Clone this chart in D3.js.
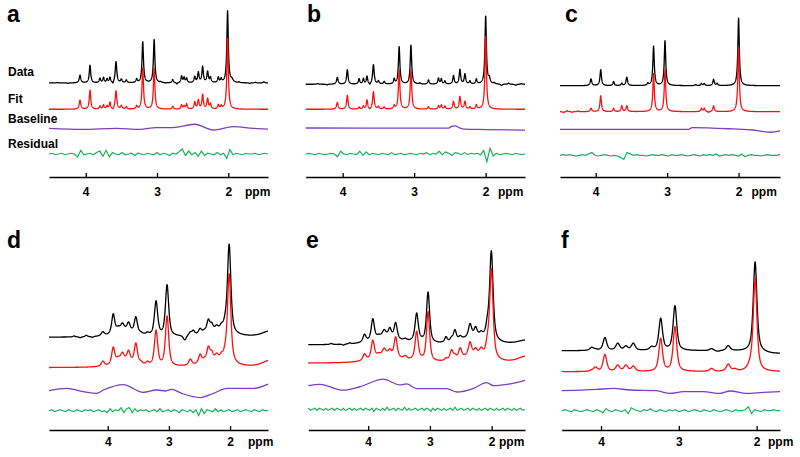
<!DOCTYPE html>
<html><head><meta charset="utf-8">
<script src="https://cdn.jsdelivr.net/npm/d3@7"></script>
<style>body{margin:0;background:#fff} svg{display:block}</style>
</head><body><svg id="chart" width="800" height="457"></svg>
<script>
// ---------------- DATA ----------------
// peaks: [ppm, data amplitude, fit amplitude, half-width (ppm)]  (a.u., NAA data peak ~ 100)
const peaksA = [
  [4.40,0.7,0,.01],[4.25,-0.7,0,.01],
  [4.08,10.5,12.3,.013],[3.94,24,26,.012],[3.80,6,4,.012],[3.75,7,5.5,.011],[3.70,5,4,.011],
  [3.66,7,9,.011],[3.62,-3,-2,.010],[3.575,29,25,.013],[3.50,4.5,4.5,.012],[3.43,3.7,3,.012],
  [3.285,5,4,.011],[3.20,56,56,.012],[3.04,59,56,.012],[2.95,1,0,.01],[2.88,-0.7,0,.01],
  [2.78,4.5,4,.011],[2.72,-2,0,.010],[2.655,9,5.5,.011],[2.62,7,4,.011],[2.585,6,7,.011],
  [2.47,8,9.5,.012],[2.42,14,12,.012],[2.36,22,19.5,.012],[2.29,15,14,.012],[2.25,7,7,.011],
  [2.14,7,5.5,.011],[2.10,5,4,.011],[2.01,98,97,.012],[1.95,3.7,0,.02],
  [1.85,1,0,.01],[1.70,-1,0,.01],[1.62,1,0,.01],[1.50,1.5,0,.012]
];
const peaksB = [
  [4.35,1,0,.012],[4.22,-1,0,.012],
  [4.075,9.7,9.7,.013],[3.935,21,20,.012],[3.77,7.6,3,.011],[3.71,7.6,4.3,.011],
  [3.66,11,13,.011],[3.62,-2.5,-2,.010],[3.57,28,25,.013],[3.50,4.3,3.6,.012],
  [3.42,3.6,3,.012],[3.28,7,4.8,.011],[3.21,54,57,.012],[3.045,56,57,.012],
  [2.92,1.5,0,.01],[2.80,6,3.6,.011],[2.66,8.5,4.8,.011],[2.62,7.4,5.8,.011],[2.57,4.3,4.3,.011],
  [2.45,12,11,.012],[2.36,21,18,.012],[2.29,14.5,11,.012],[2.22,4.3,3,.011],[2.13,7,6,.011],
  [2.00,98,105,.012],[1.95,7,0,.015],
  [1.88,1.5,0,.012],[1.78,-2,0,.015],[1.68,1.5,0,.012],[1.58,-1.5,0,.015],[1.50,1,0,.01]
];
const peaksC = [
  [4.45,0,-1.5,.01],[4.40,0,1.5,.01],[4.33,0,-1,.01],[4.25,0,1,.01],
  [4.066,9.7,4.8,.013],[3.93,23,23,.012],[3.75,5.8,4.8,.011],[3.635,3.3,8.3,.011],
  [3.565,12,8.3,.013],[3.27,2.9,0,.011],[3.19,57,55,.012],[3.03,65,61,.012],
  [2.60,1.5,0,.01],[2.52,2.9,4.8,.011],[2.48,2.9,4.8,.011],[2.42,0,-1.5,.010],
  [2.35,9,8.3,.012],[2.30,2.9,0,.011],[2.00,98,94,.012]
];
const peaksD = [
  [4.55,1,0,.02],[4.45,-1,0,.02],[4.35,1.5,0,.02],[4.25,-1,0,.02],
  [4.08,4,5,.03],[3.91,20,17,.03],[3.83,4,4,.035],[3.76,7,8,.035],[3.66,8,10,.03],
  [3.54,16,20,.03],[3.46,1,2,.035],[3.35,2,3,.03],[3.21,35,36,.032],[3.03,52,51,.032],
  [2.74,-5,0,.03],[2.65,3,6,.03],[2.60,4,0,.025],[2.49,5,9,.03],[2.42,2,3,.03],
  [2.355,12,14,.03],[2.30,7,8,.03],[2.22,5,6,.035],[2.14,5,5,.035],[2.08,6,6,.03],
  [2.015,91,91,.033],
  [3.70,6,6,.20],[2.25,4,5,.30],[1.35,6,7,.15]
];
const peaksE = [
  [4.60,1,0,.02],[4.40,-1,0,.02],[4.30,1,0,.02],
  [4.06,7,6,.03],[3.925,20,17,.03],[3.83,2,2,.035],[3.74,6,6,.035],[3.65,8,5,.03],
  [3.555,15,19,.03],[3.40,2,3,.035],[3.215,25,26,.03],[3.03,48,47,.03],
  [2.74,5,2,.025],[2.65,3,9,.03],[2.595,10,3,.028],[2.51,3,9,.03],[2.35,12,12,.03],
  [2.26,8,5,.03],[2.17,4,6,.035],[2.07,10,10,.03],[2.005,85,85,.033],
  [3.72,7,7,.25],[3.20,3,2,.10],[2.30,7,7,.25],[1.45,4,6,.15]
];
const peaksF = [
  [4.12,3,1,.028],[4.07,1,4,.028],[3.95,13,17,.028],[3.785,7,6,.03],[3.68,4,6,.03],
  [3.585,7,5,.03],[3.35,3,0,.03],[3.233,32,33,.028],[3.05,45,45,.028],[2.58,2,3,.03],
  [2.50,-1,0,.03],[2.365,5,7,.03],[2.28,0,2,.03],[2.08,0,4,.04],[2.02,91,93,.028],
  [1.75,-3,0,.25]
];

// baseline control points: [ppm, value]
const baseA = [[4.515,0],[4.04,-1.4],[3.57,0],[3.24,-1.4],[3.01,1],[2.78,1],[2.47,5.5],[2.21,-2.3],[1.93,2.3],[1.65,0],[1.443,-1]];
const baseB = [[4.517,0],[3.0,-0.3],[2.52,-0.3],[2.48,2.2],[2.43,3.2],[2.36,0],[2.30,-1.5],[2.0,-2.2],[1.45,-3.2]];
const baseC = [[4.5,0],[2.70,0],[2.65,2.4],[2.08,0.5],[1.8,-1],[1.55,-4.3],[1.42,-2.4]];
const baseD = [[4.96,0],[4.67,2.3],[4.40,-1],[4.18,-2.7],[4.07,0.7],[3.745,6.3],[3.42,-1.7],[3.20,0.7],[3.05,-0.3],[2.955,1.3],[2.79,-2.7],[2.49,-7],[2.27,-2.7],[2.05,2.3],[1.84,2.3],[1.62,2.3],[1.38,6.7]];
const baseE = [[4.97,0],[4.78,1.3],[4.405,-4.3],[4.135,-1],[3.757,6.3],[3.486,0.7],[3.378,1.7],[3.216,-2.7],[2.946,-2.7],[2.73,-2.7],[2.567,-6],[2.30,-2.7],[2.08,3],[1.974,0],[1.70,1.7],[1.46,5]];
const baseF = [[4.505,0],[4.055,1.3],[3.84,2.3],[3.63,0.7],[3.285,0],[3.114,-2.7],[2.94,-1],[2.686,-1],[2.47,-2.7],[2.343,-0.3],[2.13,-2.7],[1.915,-1.7],[1.70,-1]];

// residuals: values at evenly spaced ppm across each panel
const resA = [0,1,-1,0,1,-1,0,1,0, -4,5, -1,0,1,-1,2, 4,-3,5,-4,2, 0,-1,2,-1,0,1,-2,1,0,-1,
  1,0,-1,2,-1,1,0,-2,1,0, 3,7,-2,4, -1,2,-3,4,-2,1, 0,-1,2,-1,1, -6,6, -1,1,0,-1,1,0,0,1,-1,0,1,0];
const resB = [0,1,0,-1,1,0,-1,0,1,0, -4,4, 0,-1,1,0,-1, 4,-2,3, -1,1,0,-1,1,0,-1,2,-1,0,
  1,-1,0,1,0,-1,1,0,2,-1,1,0, 4,-1,3, 1,-2,2,1,-1, 2,-1,1,0,1,-1, 5,-11,8,-3, 1,-1,0,1,0,-1,1,0,-1,0];
const resC = [0,1,0,1,0,-1,0,1,0, 2,4, 0,-1,0,1,0,-1,0,-1, -3,-6,4,2, 0,1,0,0,-1,0,1,0,
  0,1,0,-1,1,0,0,1,0,-1, 0,1,0,-1,1,0,1,0, 2,-1, 0,1,0,1,0,-1, 2,-2, 0,1,0,0,-1,0,1,0,0,0,1];
const resD = [0,1,-1,0,1,0,-1,1,0,-1, 1,0,-1,1,0,1,-1,0,1,-1, 0,-2,2,-1,1,0, 3,-2,2,3,-2,2,-1,1,
  0,1,-1,0,1,-1,2,-1,0,1, -1,1,0,-2,1,0,-1,1,-2,1, -5,2,-3,1, 0,-1,2,-1,1,-1,0,1,-1,0,
  1,-1,0,1,0,-1,1,0,-1,1,0,0];
const resE = [1,-1,0,1,-1,1,0,-1,1,-1, 0,1,-1,1,0,-1,1,-1,0,1, -1,1,-1,0,1,-1,1,0,-1,1,
  -2,1,0,-1,1,-1,2,-1,0,1, -1,1,0,-1,2,-1,1,-1,0,1, -1,0,1,-1,1,0,-2,1,-1,1,
  0,-1,1,-1,0,1,-1,2,-1,0, 1,-1,0,1,-1,1,0,-1,1,-1, 0,1,-1,1,0,-1,1,-1,0,1, -1,1,0,-1,1,-1,0,1,-1,0];
const resF = [0,1,0,-1,1,0,-1,0,1,0,-1,1,0, -2,2, 0,-1,1,0,-1,1, -3,3,1, 0,-1,1,0, 2,0,
  -1,1,0,-1,1,0,1,-1,0,1,-1,0, 1,0,-1,1,0,-1,1,0,-1,0,1,0,-1,1,0,0,1, 4,-3,1, 0,-1,1,0,0,1,0,0];

const panelLetters = ["a","b","c","d","e","f"];
const tickValues = [4,3,2];
const rowLabels = ["Data","Fit","Baseline","Residual"];

// ---------------- LAYOUT ----------------
const layout = [
  {x0:49,   x1:268, dom:[4.515,1.443], axisY:177, rows:[83,109.3,128.3,154],     naa:73.3, pad:10.8, ppmX:245,   lx:7,   ly:22,  eta:1},
  {x0:305.7,x1:525, dom:[4.517,1.45],  axisY:177, rows:[84.3,109.3,128,154],     naa:69.3, pad:10.8, ppmX:498,   lx:307, ly:22,  eta:1},
  {x0:560,  x1:780, dom:[4.5,1.42],    axisY:177, rows:[85.7,111.7,129.3,155.3], naa:69,   pad:10.8, ppmX:751.5, lx:565, ly:22,  eta:1},
  {x0:49,   x1:268, dom:[4.96,1.38],   axisY:430, rows:[337.3,367.7,390.7,410.7],naa:98,   pad:7.5,  ppmX:248,   lx:7,   ly:248, eta:0.7},
  {x0:308.3,x1:525, dom:[4.97,1.46],   axisY:430, rows:[345,363.3,385.7,409.3],  naa:105,  pad:7.5,  ppmX:499,   lx:306, ly:248, eta:0.7},
  {x0:561.7,x1:780, dom:[4.505,1.70],  axisY:430, rows:[350.7,371.7,390.7,410.7],naa:99,   pad:7.5,  ppmX:768,   lx:561, ly:248, eta:0.7}
];
const peakSets = [peaksA,peaksB,peaksC,peaksD,peaksE,peaksF];
const baseSets = [baseA,baseB,baseC,baseD,baseE,baseF];
const resSets = [resA,resB,resC,resD,resE,resF];

const colors = {data:"#000000", fit:"#ff1010", baseline:"#7d3fbe", residual:"#17b25a"};
const font = "Arial, 'Liberation Sans', Helvetica, sans-serif";
const svg = d3.select("#chart");

// pseudo-Voigt line shape (eta = Lorentzian fraction)
function lineshape(peaks, col, ppm, eta){
  let s = 0;
  for (const p of peaks){
    const d = (ppm - p[0]) / p[3], d2 = d*d;
    s += p[col] * (eta / (1 + d2) + (1 - eta) * Math.exp(-Math.LN2 * d2));
  }
  return s;
}

layout.forEach((L, i) => {
  const g = svg.append("g");
  const x = d3.scaleLinear().domain(L.dom).range([L.x0, L.x1]);
  const ys = L.rows.map(r => d3.scaleLinear().domain([0,100]).range([r, r - L.naa]));
  const peaks = peakSets[i];

  g.append("path").datum(baseSets[i])
    .attr("fill","none").attr("stroke",colors.baseline).attr("stroke-width",1.3)
    .attr("d", d3.line().x(d => x(d[0])).y(d => ys[2](d[1])).curve(d3.curveMonotoneX));

  const res = resSets[i];
  const rx = d3.scaleLinear().domain([0, res.length - 1]).range(L.dom);
  g.append("path").datum(res)
    .attr("fill","none").attr("stroke",colors.residual).attr("stroke-width",1.2)
    .attr("d", d3.line().x((d,j) => x(rx(j))).y(d => ys[3](d)));

  const n = 2200;
  const grid = d3.range(n + 1).map(j => L.dom[0] + (L.dom[1] - L.dom[0]) * j / n);
  [["data",1,0],["fit",2,1]].forEach(([key,col,row]) => {
    g.append("path").datum(grid)
      .attr("fill","none").attr("stroke",colors[key]).attr("stroke-width",1.3)
      .attr("stroke-linejoin","round")
      .attr("d", d3.line().x(d => x(d)).y(d => ys[row](lineshape(peaks,col,d,L.eta))));
  });

  const axis = d3.axisBottom(x).tickValues(tickValues).tickSize(-4).tickSizeOuter(0)
    .tickPadding(L.pad).tickFormat(d3.format("d"));
  const ag = g.append("g").attr("transform",`translate(0,${L.axisY})`).call(axis)
    .attr("font-size",12).attr("font-family",font).attr("font-weight","bold");
  ag.select(".domain").attr("stroke","#000").attr("stroke-width",1.3);
  ag.selectAll(".tick line").attr("stroke","#000").attr("stroke-width",1.3);
  ag.selectAll(".tick text").attr("fill","#000");
  g.append("text").attr("x",L.ppmX).attr("y",L.axisY + L.pad).attr("dy","0.71em")
    .attr("font-size",12).attr("font-family",font).attr("font-weight","bold").text("ppm");

  g.append("text").attr("x",L.lx).attr("y",L.ly).attr("font-size",23).attr("font-weight","bold")
    .attr("font-family",font).text(panelLetters[i]);

  if (i === 0){
    const lyPos = [75.7, 103, 123, 148];
    rowLabels.forEach((t,k) => g.append("text").attr("x",8).attr("y",lyPos[k])
      .attr("font-size",12).attr("font-weight","bold").attr("font-family",font).text(t));
  }
});
</script></body></html>
